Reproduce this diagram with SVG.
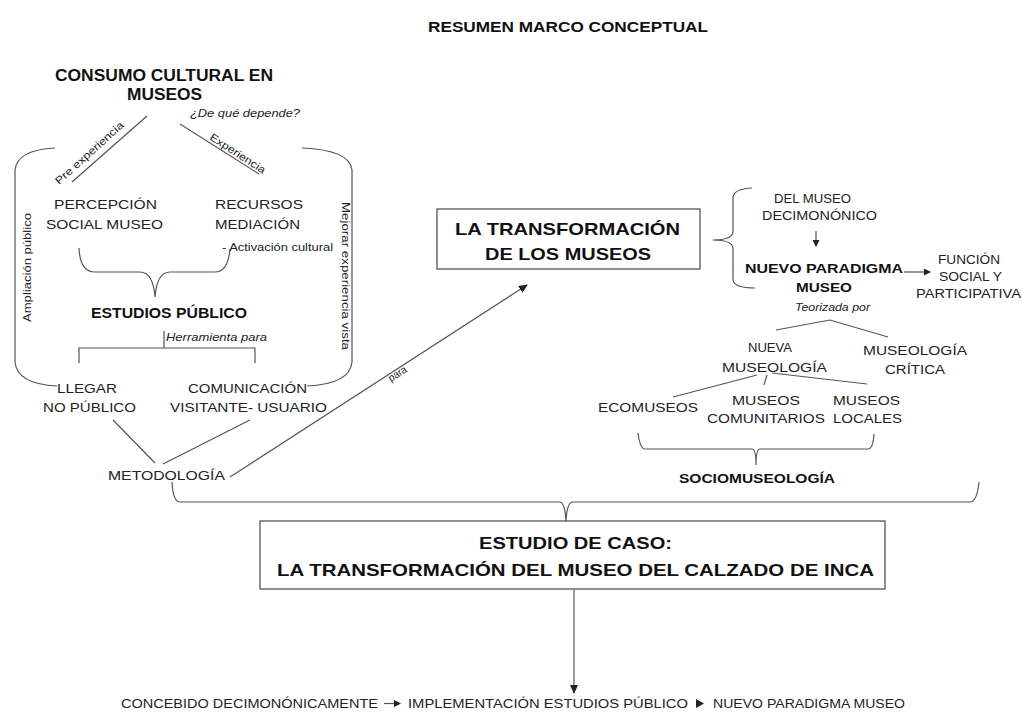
<svg xmlns="http://www.w3.org/2000/svg" width="1022" height="718" viewBox="0 0 1022 718">
<defs>
<marker id="ah" markerWidth="9" markerHeight="8" refX="8" refY="4" orient="auto" markerUnits="userSpaceOnUse"><path d="M0,0 L9,4 L0,8 z" fill="#222"/></marker>
<marker id="ahs" markerWidth="7" markerHeight="7" refX="6" refY="3.5" orient="auto" markerUnits="userSpaceOnUse"><path d="M0,0 L7,3.5 L0,7 z" fill="#222"/></marker>
</defs>
<style>
text{font-family:"Liberation Sans",Arial,sans-serif;fill:#222}
.r{font-size:13.5px}
.s{font-size:12.5px}
.b{font-weight:bold;fill:#111}
.i{font-style:italic;font-size:10.5px}
.n{font-size:10.5px}
.ln{fill:none;stroke:#555;stroke-width:1.2}
.box{fill:#fff;stroke:#555;stroke-width:1.3}
</style>
<rect width="1022" height="718" fill="#fff"/>

<g id="title"><text class="b" x="428" y="32" font-size="14.5" textLength="280" lengthAdjust="spacingAndGlyphs">RESUMEN MARCO CONCEPTUAL</text></g>

<g id="connectors">
<path class="ln" d="M72,182 L147,116"/>
<path class="ln" d="M180,124 L259,174"/>
<path class="ln" d="M55,148 Q17,150 15,170 L15,362 Q17,384 57,386"/>
<path class="ln" d="M302,148 Q350,150 352,170 L352,362 Q350,384 307,386"/>
<path class="ln" d="M79,248 Q80,272 95,272 L140,272 Q153,272 155,297 Q157,272 170,272 L215,272 Q228,272 230,249"/>
<path class="ln" d="M164,331 L164,348 M79,363 L79,348 L255,348 L255,363"/>
<path class="ln" d="M113,420 L155,463 M250,420 L163,464"/>
<path class="ln" d="M230,477 L527,285" marker-end="url(#ah)"/>
<path class="ln" d="M172,482 Q173,502 180,502 L560,502 Q565,503 566,521 Q567,503 572,502 L970,502 Q977,502 979,482"/>
<path class="ln" d="M752,188 Q734,189 733,197 L733,232 Q732,240 713,240 Q732,240 733,248 L733,280 Q734,288 755,288"/>
<path class="ln" d="M816,231 L816,246" marker-end="url(#ahs)"/>
<path class="ln" d="M904,272 L930,272" marker-end="url(#ahs)"/>
<path class="ln" d="M776,330 L830,320 L888,337"/>
<path class="ln" d="M757,375 L673,397 M767,375 L764,385 M772,373 L867,384"/>
<path class="ln" d="M638,433 Q640,449 645,449 L752,449 Q756,449 756,465 Q756,449 760,449 L868,449 Q873,449 874,434"/>
<path class="ln" d="M574,590 L574,693" marker-end="url(#ah)"/>
<path class="ln" d="M384,703.5 L400,703.5" marker-end="url(#ahs)"/>
</g>

<g id="consumo">
<text class="b" x="55" y="81" font-size="16" textLength="218" lengthAdjust="spacingAndGlyphs">CONSUMO CULTURAL EN</text>
<text class="b" x="127" y="100" font-size="16" textLength="75" lengthAdjust="spacingAndGlyphs">MUSEOS</text>
<text class="i" x="190" y="117" textLength="110" lengthAdjust="spacingAndGlyphs">¿De qué depende?</text>
<text class="n" transform="translate(59,185) rotate(-42)" textLength="88" lengthAdjust="spacingAndGlyphs">Pre experiencia</text>
<text class="n" transform="translate(209,139) rotate(33)" textLength="64" lengthAdjust="spacingAndGlyphs">Experiencia</text>
<text class="n" transform="translate(31,322) rotate(-90)" font-size="11" textLength="109" lengthAdjust="spacingAndGlyphs">Ampliación público</text>
<text class="n" transform="translate(342,202) rotate(90)" font-size="11" textLength="148" lengthAdjust="spacingAndGlyphs">Mejorar experiencia vista</text>
</g>

<g id="percepcion">
<text class="r" x="54" y="209" textLength="103" lengthAdjust="spacingAndGlyphs">PERCEPCIÓN</text>
<text class="r" x="46" y="229" textLength="117" lengthAdjust="spacingAndGlyphs">SOCIAL MUSEO</text>
</g>
<g id="recursos">
<text class="r" x="215" y="209" textLength="88" lengthAdjust="spacingAndGlyphs">RECURSOS</text>
<text class="r" x="215" y="229" textLength="85" lengthAdjust="spacingAndGlyphs">MEDIACIÓN</text>
<text x="222" y="251" font-size="11.5" textLength="111" lengthAdjust="spacingAndGlyphs">- Activación cultural</text>
</g>
<g id="estudios">
<text class="b" x="91" y="318" font-size="14.5" textLength="156" lengthAdjust="spacingAndGlyphs">ESTUDIOS PÚBLICO</text>
<text class="i" x="166" y="341" textLength="101" lengthAdjust="spacingAndGlyphs">Herramienta para</text>
</g>
<g id="llegar">
<text class="r" x="57" y="393" textLength="60" lengthAdjust="spacingAndGlyphs">LLEGAR</text>
<text class="r" x="43" y="412" textLength="93" lengthAdjust="spacingAndGlyphs">NO PÚBLICO</text>
</g>
<g id="comunicacion">
<text class="r" x="188" y="393" textLength="119" lengthAdjust="spacingAndGlyphs">COMUNICACIÓN</text>
<text class="r" x="170" y="412" textLength="157" lengthAdjust="spacingAndGlyphs">VISITANTE- USUARIO</text>
</g>
<g id="metodologia">
<text class="r" x="108" y="480" font-size="13" textLength="117" lengthAdjust="spacingAndGlyphs">METODOLOGÍA</text>
<text class="n" transform="translate(391,382) rotate(-33)" font-size="9.5" textLength="20" lengthAdjust="spacingAndGlyphs">para</text>
</g>

<g id="transformacion">
<rect class="box" x="437" y="209" width="263" height="60"/>
<text class="b" x="455" y="235" font-size="17" textLength="225" lengthAdjust="spacingAndGlyphs">LA TRANSFORMACIÓN</text>
<text class="b" x="485" y="260" font-size="17" textLength="166" lengthAdjust="spacingAndGlyphs">DE LOS MUSEOS</text>
</g>

<g id="decimononico">
<text class="s" x="774" y="203" textLength="77" lengthAdjust="spacingAndGlyphs">DEL MUSEO</text>
<text class="s" x="762" y="220" textLength="115" lengthAdjust="spacingAndGlyphs">DECIMONÓNICO</text>
</g>
<g id="paradigma">
<text class="b" x="745" y="273" font-size="13" textLength="158" lengthAdjust="spacingAndGlyphs">NUEVO PARADIGMA</text>
<text class="b" x="796" y="292" font-size="13" textLength="56" lengthAdjust="spacingAndGlyphs">MUSEO</text>
<text class="i" x="795" y="311" textLength="75" lengthAdjust="spacingAndGlyphs">Teorizada por</text>
</g>
<g id="funcion">
<text class="s" x="938" y="264" textLength="62" lengthAdjust="spacingAndGlyphs">FUNCIÓN</text>
<text class="s" x="939" y="281" textLength="63" lengthAdjust="spacingAndGlyphs">SOCIAL Y</text>
<text class="s" x="916" y="298" textLength="105" lengthAdjust="spacingAndGlyphs">PARTICIPATIVA</text>
</g>
<g id="nueva">
<text class="s" x="748" y="352" textLength="44" lengthAdjust="spacingAndGlyphs">NUEVA</text>
<text class="s" x="722" y="372" textLength="105" lengthAdjust="spacingAndGlyphs">MUSEOLOGÍA</text>
</g>
<g id="critica">
<text class="s" x="863" y="355" textLength="104" lengthAdjust="spacingAndGlyphs">MUSEOLOGÍA</text>
<text class="s" x="885" y="374" textLength="60" lengthAdjust="spacingAndGlyphs">CRÍTICA</text>
</g>
<g id="ecomuseos"><text class="s" x="598" y="412" textLength="100" lengthAdjust="spacingAndGlyphs">ECOMUSEOS</text></g>
<g id="comunitarios">
<text class="s" x="732" y="405" textLength="68" lengthAdjust="spacingAndGlyphs">MUSEOS</text>
<text class="s" x="707" y="423" textLength="118" lengthAdjust="spacingAndGlyphs">COMUNITARIOS</text>
</g>
<g id="locales">
<text class="s" x="833" y="405" textLength="67" lengthAdjust="spacingAndGlyphs">MUSEOS</text>
<text class="s" x="833" y="423" textLength="69" lengthAdjust="spacingAndGlyphs">LOCALES</text>
</g>
<g id="sociomuseologia"><text class="b" x="679" y="483" font-size="12.5" textLength="156" lengthAdjust="spacingAndGlyphs">SOCIOMUSEOLOGÍA</text></g>

<g id="caso">
<rect class="box" x="260" y="521" width="625" height="68"/>
<text class="b" x="479" y="549" font-size="17" textLength="193" lengthAdjust="spacingAndGlyphs">ESTUDIO DE CASO:</text>
<text class="b" x="277" y="576" font-size="17" textLength="597" lengthAdjust="spacingAndGlyphs">LA TRANSFORMACIÓN DEL MUSEO DEL CALZADO DE INCA</text>
</g>

<g id="secuencia">
<text x="121" y="708" font-size="12.5" textLength="257" lengthAdjust="spacingAndGlyphs">CONCEBIDO DECIMONÓNICAMENTE</text>
<text x="408" y="708" font-size="12.5" textLength="280" lengthAdjust="spacingAndGlyphs">IMPLEMENTACIÓN  ESTUDIOS PÚBLICO</text>
<path d="M696,699 L704,703.5 L696,708 z" fill="#222"/>
<text x="713" y="708" font-size="12.5" textLength="192" lengthAdjust="spacingAndGlyphs">NUEVO PARADIGMA MUSEO</text>
</g>
</svg>
